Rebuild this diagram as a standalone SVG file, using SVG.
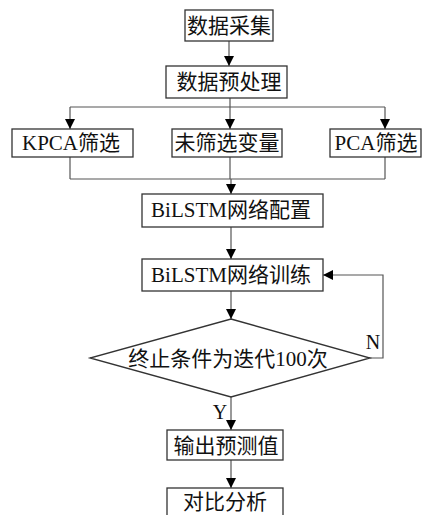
<svg xmlns="http://www.w3.org/2000/svg" width="423" height="515" viewBox="0 0 423 515">
<style>
.box{fill:#fff;stroke:#333;stroke-width:1.3}
.ln{fill:none;stroke:#555;stroke-width:1.2}
.t{font-family:"Liberation Serif","Noto Sans CJK SC",serif;font-size:21px;fill:#111;text-anchor:middle;dominant-baseline:central}
.lb{font-family:"Liberation Serif",serif;font-size:20px;fill:#111;text-anchor:middle;dominant-baseline:central}
</style>
<defs>
<marker id="ah" viewBox="0 0 10 10" refX="10" refY="5" markerWidth="10" markerHeight="10" markerUnits="userSpaceOnUse" orient="auto">
<path d="M0,0 L10,5 L0,10 Z" fill="#000"/>
</marker>
</defs>
<rect width="423" height="515" fill="#fff"/>
<g id="connectors">
<line class="ln" x1="229" y1="41" x2="229" y2="66" marker-end="url(#ah)"/>
<line class="ln" x1="230" y1="98" x2="230" y2="107"/>
<line class="ln" x1="70" y1="107" x2="385" y2="107"/>
<line class="ln" x1="70" y1="107" x2="70" y2="129" marker-end="url(#ah)"/>
<line class="ln" x1="230" y1="107" x2="230" y2="129" marker-end="url(#ah)"/>
<line class="ln" x1="385" y1="107" x2="385" y2="129" marker-end="url(#ah)"/>
<line class="ln" x1="70" y1="157" x2="70" y2="179"/>
<line class="ln" x1="230" y1="157" x2="230" y2="179"/>
<line class="ln" x1="385" y1="157" x2="385" y2="179"/>
<line class="ln" x1="70" y1="179" x2="385" y2="179"/>
<line class="ln" x1="231" y1="179" x2="231" y2="194" marker-end="url(#ah)"/>
<line class="ln" x1="231" y1="227" x2="231" y2="259" marker-end="url(#ah)"/>
<line class="ln" x1="231" y1="291" x2="231" y2="319" marker-end="url(#ah)"/>
<polyline class="ln" points="370,358 383,358 383,275 323,275" marker-end="url(#ah)"/>
<line class="ln" x1="231" y1="397" x2="231" y2="430" marker-end="url(#ah)"/>
<line class="ln" x1="231" y1="460" x2="231" y2="488" marker-end="url(#ah)"/>
<text class="lb" x="373" y="342">N</text>
<text class="lb" x="220" y="412">Y</text>
</g>
<g id="n1"><rect class="box" x="185" y="10" width="88" height="31"/><text class="t" x="229" y="26">数据采集</text></g>
<g id="n2"><rect class="box" x="166" y="66" width="121" height="32"/><text class="t" x="229" y="82">数据预处理</text></g>
<g id="n3"><rect class="box" x="12" y="129" width="121" height="28"/><text class="t" x="71" y="143">KPCA筛选</text></g>
<g id="n4"><rect class="box" x="172" y="129" width="110" height="28"/><text class="t" x="227" y="143">未筛选变量</text></g>
<g id="n5"><rect class="box" x="330" y="129" width="91" height="28"/><text class="t" x="376" y="143">PCA筛选</text></g>
<g id="n6"><rect class="box" x="142" y="194" width="181" height="33"/><text class="t" x="231" y="210">BiLSTM网络配置</text></g>
<g id="n7"><rect class="box" x="142" y="259" width="181" height="32"/><text class="t" x="231" y="275">BiLSTM网络训练</text></g>
<g id="n8"><polygon class="box" points="231,319 370,358 231,397 90,358"/><text class="t" x="228" y="359">终止条件为迭代100次</text></g>
<g id="n9"><rect class="box" x="167" y="430" width="116" height="30"/><text class="t" x="226" y="446">输出预测值</text></g>
<g id="n10"><rect class="box" x="167" y="488" width="116" height="32"/><text class="t" x="225" y="502">对比分析</text></g>
</svg>
